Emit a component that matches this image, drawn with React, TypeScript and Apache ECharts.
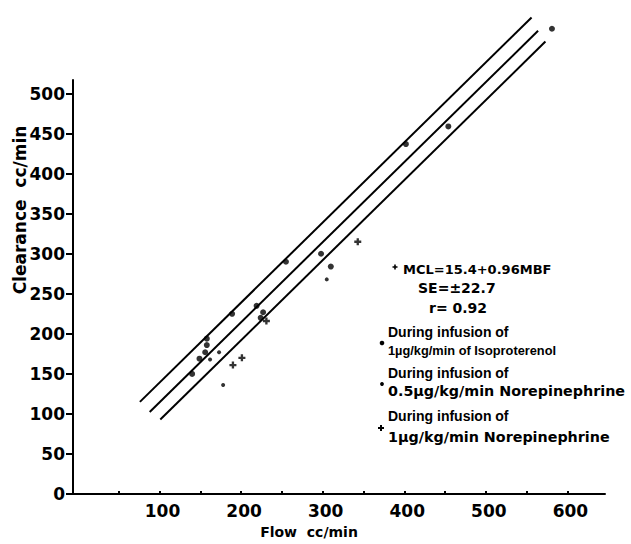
import React, { useEffect, useRef } from "react";
import * as echarts from "echarts";

// ---- data ----
const flowTicks = [50, 100, 150, 200, 250, 300, 350, 400, 450, 500, 550, 600];
const flowLabels = [100, 200, 300, 400, 500, 600];
const clearanceTicks = [0, 50, 100, 150, 200, 250, 300, 350, 400, 450, 500];

// [flow, clearance]
const isoproterenol = [
  [140, 150], [149, 169], [156, 177], [158, 186], [158, 194], [189, 225],
  [219, 235], [224, 220], [227, 227], [255, 290], [298, 300], [310, 284],
  [402, 437], [454, 459], [581, 581],
];
const norepi05 = [[178, 136], [173, 177], [162, 168], [305, 268]];
const norepi1 = [[190, 161], [201, 170], [231, 216], [343, 315]];

const upperLine = [[76, 115], [556, 595]];
const fitLine = [[88, 102.5], [564, 578.5]];
const lowerLine = [[101, 93], [573, 565]];

const annotationLines = [
  "MCL=15.4+0.96MBF",
  "SE=±22.7",
  "r= 0.92",
];
const legendLines = [
  ["During infusion of", "1µg/kg/min of Isoproterenol"],
  ["During infusion of", "0.5µg/kg/min Norepinephrine"],
  ["During infusion of", "1µg/kg/min Norepinephrine"],
];

const PLUS = "path://M2,0h2v2h2v2h-2v2h-2v-2h-2v-2h2z";
const DV = "DejaVu Sans";
const LS = "Liberation Sans";

function cross(cx: number, cy: number, a: number, w: number) {
  return [
    [cx - w, cy - a], [cx + w, cy - a], [cx + w, cy - w], [cx + a, cy - w],
    [cx + a, cy + w], [cx + w, cy + w], [cx + w, cy + a], [cx - w, cy + a],
    [cx - w, cy + w], [cx - a, cy + w], [cx - a, cy - w], [cx - w, cy - w],
  ];
}

export default function App() {
  const ref = useRef<HTMLDivElement>(null);
  useEffect(() => {
    if (!ref.current) return;
    const chart = echarts.init(ref.current, null, { renderer: "svg" });
    const lineStyle = { color: "#000", width: 2 };
    const mkLine = (d: number[][]) => ({
      type: "line",
      data: d,
      symbol: "none",
      clip: false,
      lineStyle,
      silent: true,
    });
    const txt = (text: string, x: number, y: number, size: number, family: string) => ({
      type: "text",
      x,
      y,
      style: {
        text,
        fill: "#000",
        font: `bold ${size}px "${family}"`,
        align: "left",
        verticalAlign: "middle",
      },
    });
    chart.setOption({
      animation: false,
      backgroundColor: "#fff",
      grid: { left: 73, right: 26, top: 80, bottom: 50, containLabel: false },
      xAxis: {
        type: "value",
        min: -6,
        max: 646,
        splitLine: { show: false },
        axisLine: { show: true, onZero: false, lineStyle: { color: "#000", width: 2 } },
        axisTick: { show: true, inside: true, length: 3, customValues: flowTicks, lineStyle: { color: "#000", width: 2 } },
        axisLabel: {
          customValues: flowLabels,
          color: "#000",
          fontFamily: DV,
          fontWeight: "bold",
          fontSize: 17,
          margin: 8,
          padding: [0, 0, 0, 6],
        },
      },
      yAxis: {
        type: "value",
        min: 0,
        max: 517,
        splitLine: { show: false },
        axisLine: { show: true, onZero: false, lineStyle: { color: "#000", width: 2 } },
        axisTick: { show: true, inside: false, length: 7, customValues: clearanceTicks, lineStyle: { color: "#000", width: 2 } },
        axisLabel: {
          customValues: clearanceTicks,
          color: "#000",
          fontFamily: DV,
          fontWeight: "bold",
          fontSize: 17,
          margin: 8,
        },
      },
      series: [
        mkLine(upperLine),
        mkLine(fitLine),
        mkLine(lowerLine),
        {
          type: "scatter",
          data: isoproterenol,
          symbol: "circle",
          symbolSize: 6,
          clip: false,
          itemStyle: { color: "#000" },
        },
        {
          type: "scatter",
          data: norepi05,
          symbol: "circle",
          symbolSize: 4,
          clip: false,
          itemStyle: { color: "#000" },
        },
        {
          type: "scatter",
          data: norepi1,
          symbol: PLUS,
          symbolSize: 7,
          clip: false,
          itemStyle: { color: "#000" },
        },
      ],
      graphic: [
        {
          type: "text",
          x: 20,
          y: 210,
          rotation: Math.PI / 2,
          style: {
            text: "Clearance  cc/min",
            fill: "#000",
            font: `bold 17px "${DV}"`,
            align: "center",
            verticalAlign: "middle",
          },
        },
        {
          type: "text",
          x: 309,
          y: 532,
          style: {
            text: "Flow  cc/min",
            fill: "#000",
            font: `bold 14px "${DV}"`,
            align: "center",
            verticalAlign: "middle",
          },
        },
        { type: "polygon", shape: { points: cross(395, 267, 2.5, 0.8) }, style: { fill: "#000" } },
        txt(annotationLines[0], 403, 269, 13, DV),
        txt(annotationLines[1], 418, 288, 14, DV),
        txt(annotationLines[2], 429, 308, 14, DV),
        txt(legendLines[0][0], 388, 332, 14, LS),
        txt(legendLines[0][1], 388, 350, 12.8, LS),
        { type: "circle", shape: { cx: 382, cy: 343, r: 2.3 }, style: { fill: "#000" } },
        txt(legendLines[1][0], 388, 373, 14, LS),
        txt(legendLines[1][1], 388, 391, 14.3, DV),
        { type: "circle", shape: { cx: 382, cy: 384, r: 1.9 }, style: { fill: "#000" } },
        txt(legendLines[2][0], 388, 416, 14, LS),
        txt(legendLines[2][1], 388, 437, 14.3, DV),
        { type: "polygon", shape: { points: cross(381, 428, 3, 1) }, style: { fill: "#000" } },
      ],
    });
    return () => chart.dispose();
  }, []);
  return (
    <div
      ref={ref}
      style={{ position: "fixed", left: 0, top: 0, width: 631, height: 544, background: "#fff" }}
    />
  );
}
